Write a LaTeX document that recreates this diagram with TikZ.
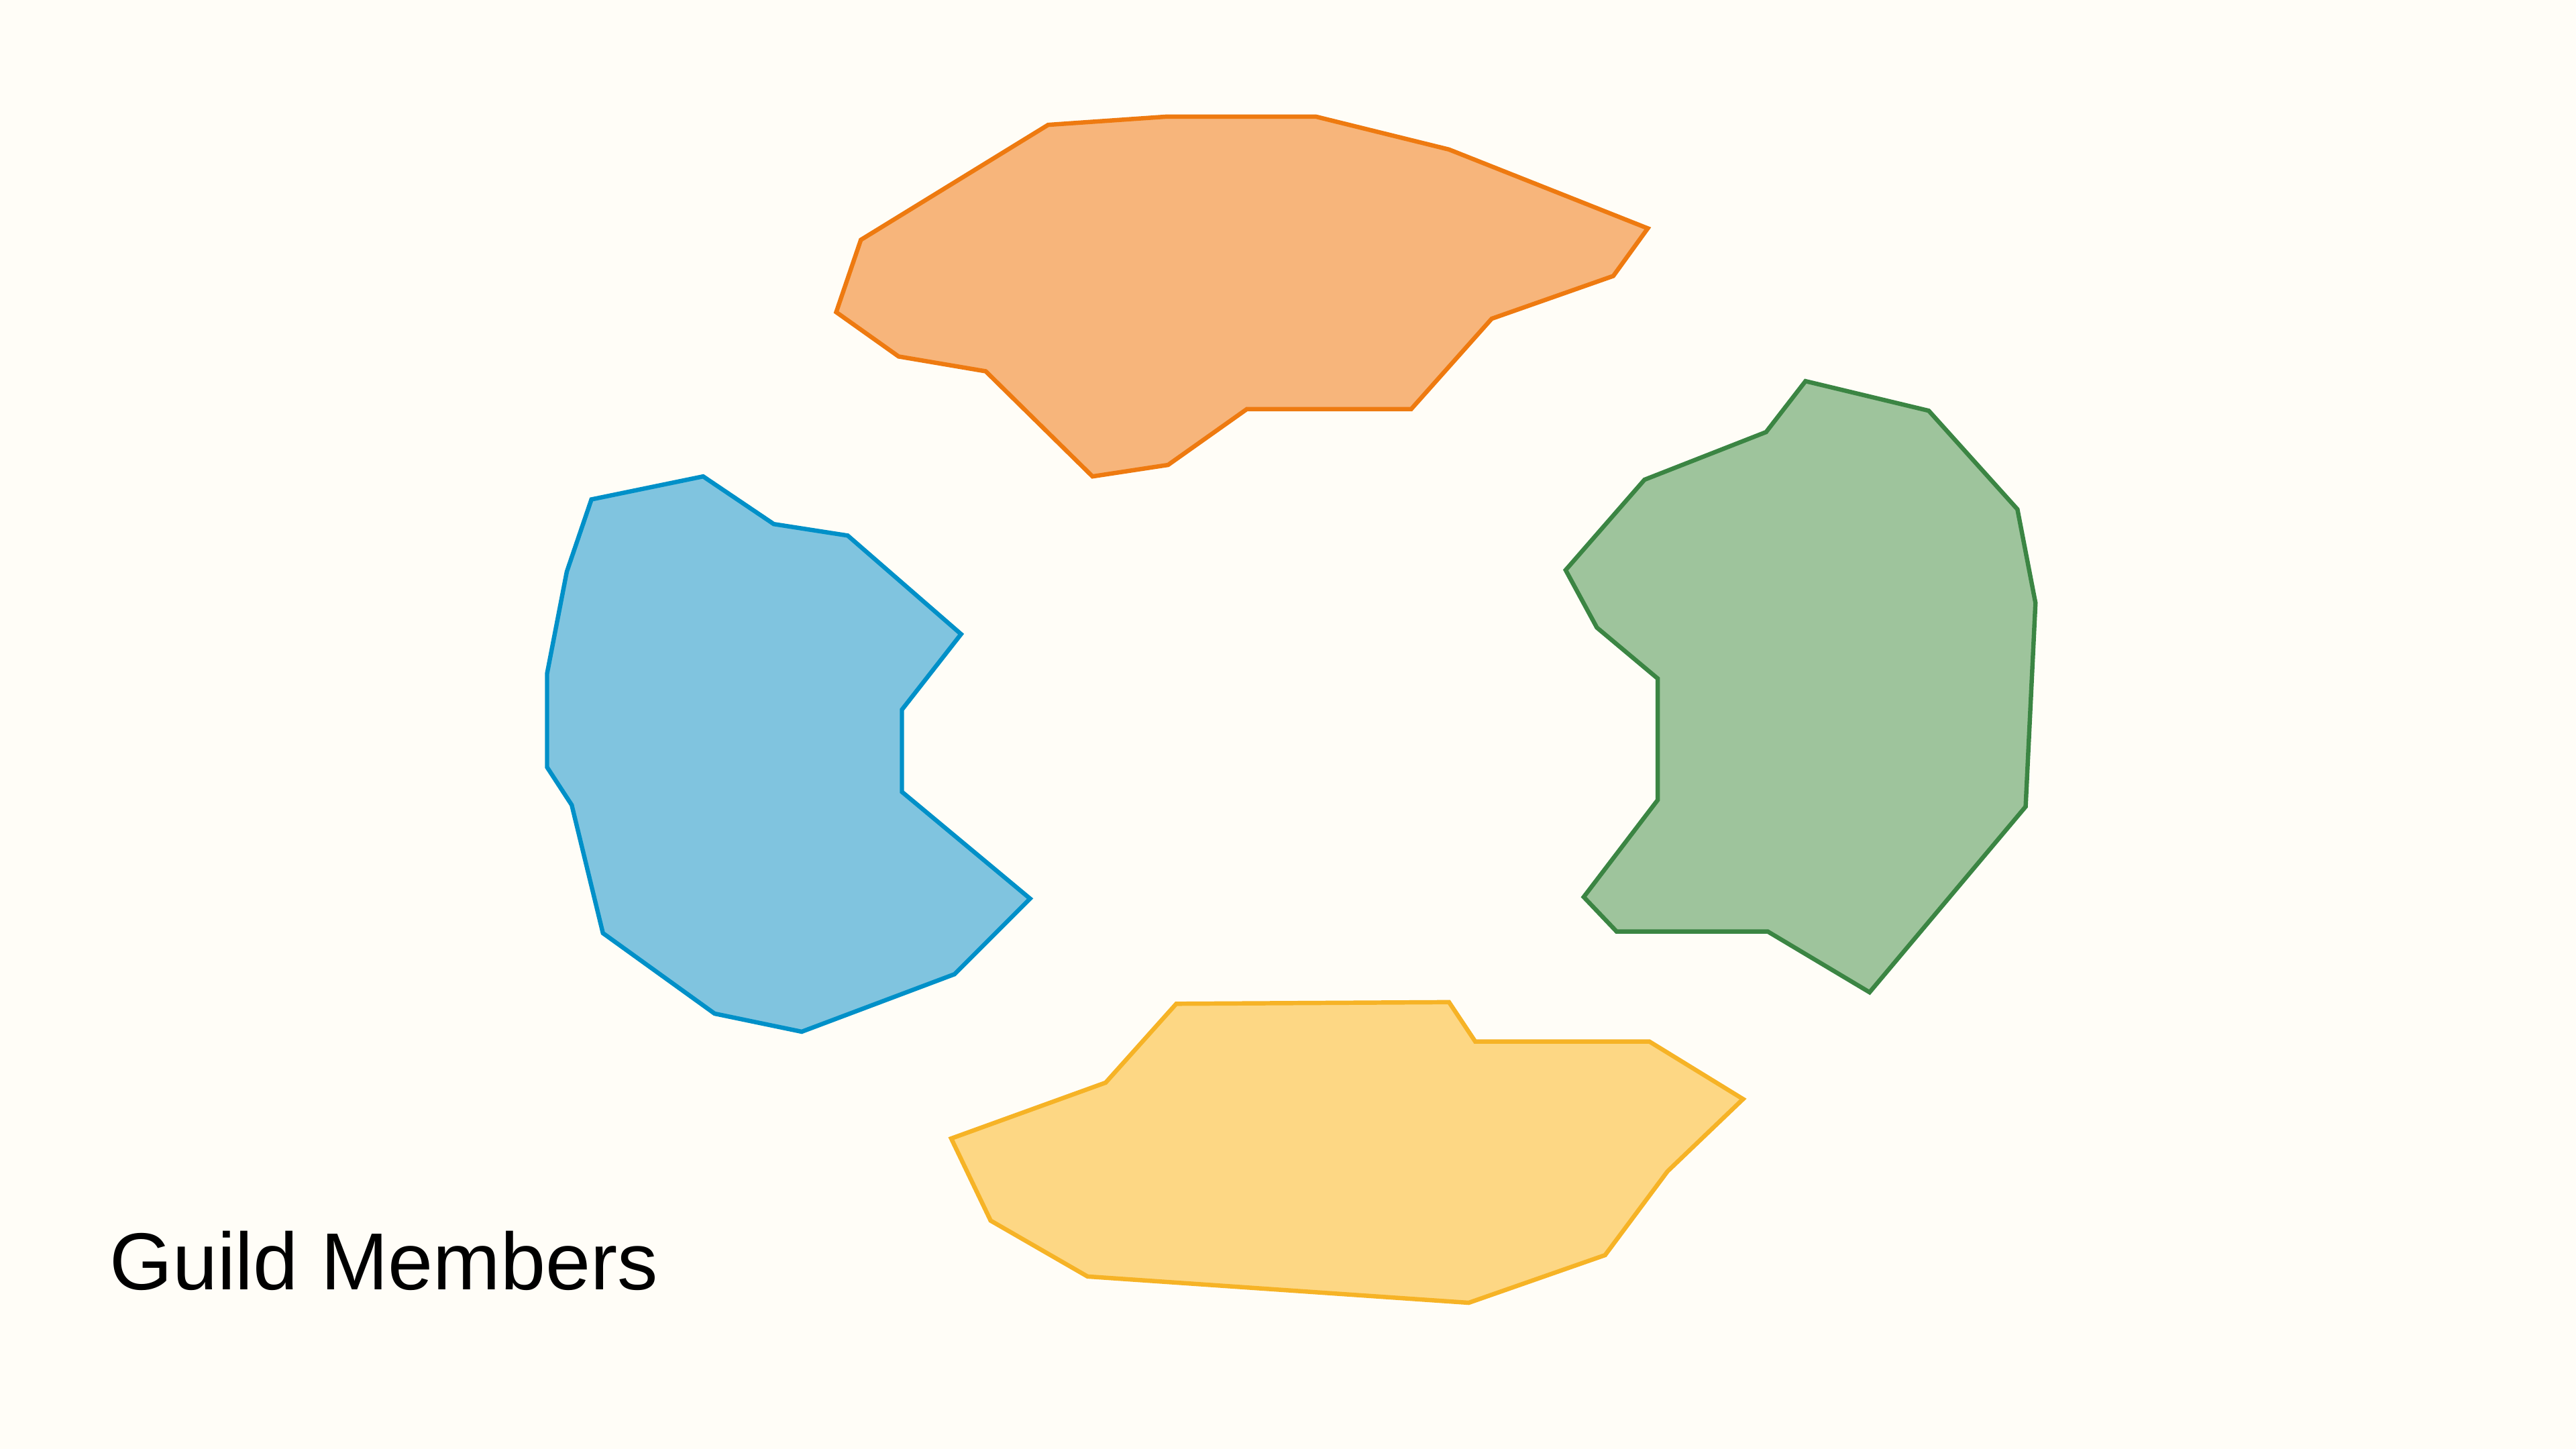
\documentclass[tikz,border=0pt]{standalone}
\usepackage{fontspec}
\setmainfont{Liberation Sans}
\definecolor{bg}{HTML}{FFFDF7}
\definecolor{oFill}{HTML}{F7B57B}
\definecolor{oLine}{HTML}{EE7A10}
\definecolor{gFill}{HTML}{9EC49C}
\definecolor{gLine}{HTML}{3B8543}
\definecolor{bFill}{HTML}{80C4DF}
\definecolor{bLine}{HTML}{0090C8}
\definecolor{yFill}{HTML}{FDD784}
\definecolor{yLine}{HTML}{F6B326}
\tikzset{
  blob/.style={line width=0.75pt, line join=miter},
}
\begin{document}
\begin{tikzpicture}[x=0.01cm,y=-0.01cm]
\fill[bg] (0,0) rectangle (1568,882);
\useasboundingbox (0,0) rectangle (1568,882);
% orange
\filldraw[blob, fill=oFill, draw=oLine] (524,146) -- (638,76) -- (710,71) -- (801,71) -- (882,91) -- (1003,139) -- (982,168) -- (908,194) -- (859,249) -- (759,249) -- (711,283) -- (665,290) -- (600,226) -- (547,217) -- (509,190) -- cycle;
% green
\filldraw[blob, fill=gFill, draw=gLine] (1099,232) -- (1174,250) -- (1228,310) -- (1239,367) -- (1233,491) -- (1138,604) -- (1076,567) -- (984,567) -- (964,546) -- (1009,487) -- (1009,413) -- (972,382) -- (953,347) -- (1001,292) -- (1075,263) -- cycle;
% blue
\filldraw[blob, fill=bFill, draw=bLine] (360,304) -- (428,290) -- (471,319) -- (516,326) -- (585,386) -- (549,432) -- (549,482) -- (627,547) -- (581,593) -- (488,628) -- (435,617) -- (367,568) -- (348,490) -- (333,467) -- (333,410) -- (345,348) -- cycle;
% yellow
\filldraw[blob, fill=yFill, draw=yLine] (716,611) -- (882,610) -- (898,634) -- (1004,634) -- (1061,669) -- (1015,713) -- (977,764) -- (894,793) -- (662,777) -- (603,743) -- (579,693) -- (673,659) -- cycle;
\node[anchor=base west, inner sep=0pt, font=\fontsize{14pt}{16pt}\selectfont] (title) at (66,785) {Guild Members};
\end{tikzpicture}
\end{document}
